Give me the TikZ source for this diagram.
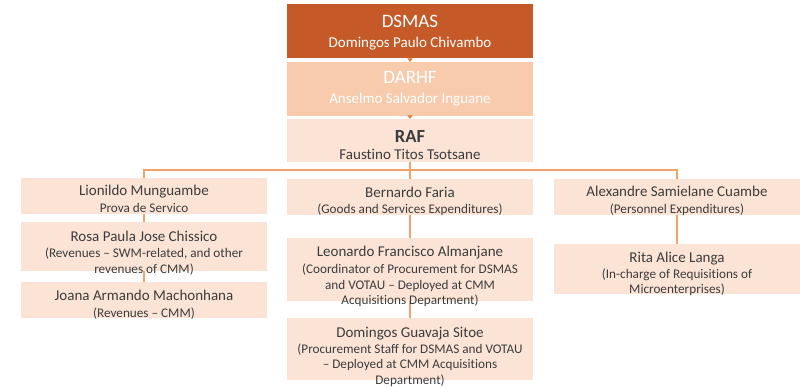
\documentclass[tikz,border=0pt]{standalone}
\usepackage{fontspec}
\setmainfont{Carlito}[Ligatures={CommonOff,ContextualOff}]
\usetikzlibrary{arrows.meta}
\definecolor{dsmasc}{HTML}{C55A28}
\definecolor{darhfc}{HTML}{F8CBAD}
\definecolor{lightc}{HTML}{FBE4D6}
\definecolor{linec}{HTML}{F2A36B}
\definecolor{tipcol}{HTML}{ED7D31}
\definecolor{txt}{HTML}{3C3C3C}
\tikzset{
  box/.style={rectangle, inner sep=0pt, outer sep=0pt, fill=lightc, minimum width=246pt, anchor=north west},
  topbox/.style={rectangle, inner sep=0pt, outer sep=0pt, minimum width=246pt, anchor=north west},
  ttl/.style={inner sep=0pt, anchor=base, font=\fontsize{19}{22}\selectfont},
  sub/.style={inner sep=0pt, anchor=base, font=\fontsize{15}{18}\selectfont},
  nm/.style={inner sep=0pt, anchor=base, text=txt, font=\fontsize{15}{18}\selectfont},
  ds/.style={inner sep=0pt, anchor=base, text=txt, font=\fontsize{13.2}{15}\selectfont},
  conn/.style={draw=linec, line width=1.3pt},
  tipline/.style={draw=tipcol, line width=0.8pt, -{Triangle[width=5pt,length=3.5pt]}}
}
\begin{document}
\begin{tikzpicture}[x=1pt,y=-1pt]
\useasboundingbox (0,0) rectangle (800,387);
% top chain
\node[topbox, fill=dsmasc, minimum height=54pt] (dsmas) at (287,4) {};
\node[topbox, fill=darhfc, minimum height=54pt] (darhf) at (287,62) {};
\node[topbox, fill=lightc, minimum height=43pt] (raf) at (287,119) {};
\node[ttl, text=white] (dsmas-t) at (410,28) {DSMAS};
\node[sub, text=white] (dsmas-s) at (410,48) {Domingos Paulo Chivambo};
\node[ttl, text=white] (darhf-t) at (410,84) {DARHF};
\node[sub, text=white] (darhf-s) at (410,104) {Anselmo Salvador Inguane};
\node[ttl, text=txt, font=\fontsize{18.5}{22}\selectfont\bfseries] (raf-t) at (410,143) {RAF};
\node[sub, text=txt] (raf-s) at (410,160) {Faustino Titos Tsotsane};
% left column
\node[box, minimum height=36pt] (lio) at (21,178) {};
\node[box, minimum height=49pt] (rosa) at (21,222) {};
\node[box, minimum height=36pt] (joa) at (21,282) {};
% middle column
\node[box, minimum height=36pt] (ber) at (287,179) {};
\node[box, minimum height=63pt] (leo) at (287,238) {};
\node[box, minimum height=62pt] (dom) at (287,318) {};
% right column
\node[box, minimum height=36pt] (ale) at (554,179) {};
\node[box, minimum height=50pt] (rita) at (554,244) {};
% connectors
\coordinate (bus) at (410,170);
\draw[tipline] (dsmas.south) -- (darhf.north);
\draw[tipline] (darhf.south) -- (raf.north);
\draw[conn] (raf.south) -- (bus);
\draw[conn] (bus) -| (lio.north);
\draw[conn] (bus) -| (ale.north);
\draw[conn] (bus) -- (ber.north);
\draw[conn] (lio.south) -- (rosa.north);
\draw[conn] (rosa.south) -- (joa.north);
\draw[conn] (ber.south) -- (leo.north);
\draw[conn] (leo.south) -- (dom.north);
\draw[conn] (ale.south) -- (rita.north);
% texts left
\node[nm] (lio-n) at (144,196) {Lionildo Munguambe};
\node[ds] (lio-d) at (144,213) {Prova de Servico};
\node[nm] (rosa-n) at (144,242) {Rosa Paula Jose Chissico};
\node[ds] (rosa-d1) at (144,258) {(Revenues – SWM-related, and other};
\node[ds] (rosa-d2) at (144,273) {revenues of CMM)};
\node[nm] (joa-n) at (144,300) {Joana Armando Machonhana};
\node[ds] (joa-d) at (144,317) {(Revenues – CMM)};
% texts middle
\node[nm] (ber-n) at (410,198) {Bernardo Faria};
\node[ds] (ber-d) at (410,214) {(Goods and Services Expenditures)};
\node[nm] (leo-n) at (410,257) {Leonardo Francisco Almanjane};
\node[ds] (leo-d1) at (410,273) {(Coordinator of Procurement for DSMAS};
\node[ds] (leo-d2) at (410,289) {and VOTAU – Deployed at CMM};
\node[ds] (leo-d3) at (410,305) {Acquisitions Department)};
\node[nm] (dom-n) at (410,337) {Domingos Guavaja Sitoe};
\node[ds] (dom-d1) at (410,353) {(Procurement Staff for DSMAS and VOTAU};
\node[ds] (dom-d2) at (410,368) {– Deployed at CMM Acquisitions};
\node[ds] (dom-d3) at (410,384) {Department)};
% texts right
\node[nm] (ale-n) at (677,197) {Alexandre Samielane Cuambe};
\node[ds] (ale-d) at (677,214) {(Personnel Expenditures)};
\node[nm] (rita-n) at (677,263) {Rita Alice Langa};
\node[ds] (rita-d1) at (677,279) {(In-charge of Requisitions of};
\node[ds] (rita-d2) at (677,294) {Microenterprises)};
\end{tikzpicture}
\end{document}
